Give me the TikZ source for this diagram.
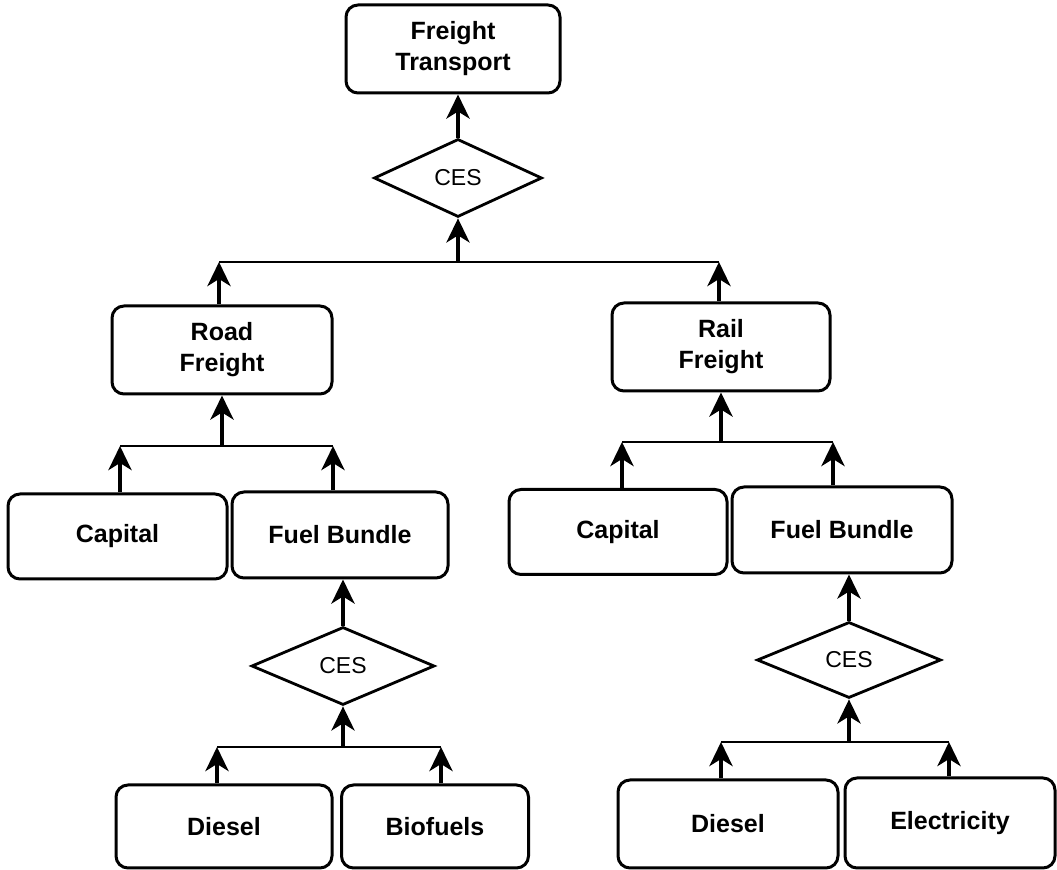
\documentclass[tikz,border=0pt]{standalone}
\usepackage{fontspec}
\setmainfont{Liberation Sans}
\usetikzlibrary{arrows.meta,shapes.geometric}
\newcommand{\boxfont}{\fontsize{12.5}{15.5}\selectfont\bfseries}
\newcommand{\cesfont}{\fontsize{11.5}{13}\selectfont}

\begin{document}
\begin{tikzpicture}[x=0.5pt, y=-0.5pt,
    box/.style={draw, line width=1.5pt, rounded corners=6pt, minimum width=109pt, minimum height=43pt, inner sep=2pt, align=center, font=\boxfont},
    ces/.style={draw, diamond, aspect=2, line width=1.4pt, inner sep=0pt, minimum width=92pt, minimum height=38.5pt, font=\cesfont},
    arr/.style={-{Stealth[length=12pt, width=11.5pt, inset=3.5pt]}, line width=2pt},
    bus/.style={line width=1.2pt}]
    \useasboundingbox (0,0) rectangle (1057,870);

    % --- top: freight transport ---
    \node[box, minimum width=107pt, minimum height=44pt] (ft) at (453,49) {Freight\\Transport};
    \node[ces, minimum width=84pt, minimum height=39pt] (cesT) at (458,178) {CES};
    \draw[arr] (cesT.north) -- (cesT.north |- ft.south);
    \coordinate (b1l) at (219,262);
    \coordinate (b1r) at (719,262);
    \draw[bus] (b1l) -- (b1r);
    \draw[arr] (cesT.south |- b1l) -- (cesT.south);

    % --- road / rail ---
    \node[box, minimum width=110pt, minimum height=44pt] (road) at (222,350) {Road\\Freight};
    \node[box, minimum height=44pt] (rail) at (721,347) {Rail\\Freight};
    \draw[arr] (road.north -| b1l) -- (b1l);
    \draw[arr] (rail.north -| b1r) -- (b1r);

    % --- road: capital and fuel ---
    \coordinate (b2ll) at (120,446);
    \coordinate (b2lr) at (333,446);
    \draw[bus] (b2ll) -- (b2lr);
    \draw[arr] (road.south |- b2ll) -- (road.south);
    \node[box, minimum width=109.5pt, minimum height=42.5pt] (capL) at (117.5,536.5) {Capital};
    \node[box, minimum width=108pt] (fuelL) at (340,535) {Fuel Bundle};
    \draw[arr] (capL.north -| b2ll) -- (b2ll);
    \draw[arr] (fuelL.north -| b2lr) -- (b2lr);

    % --- rail: capital and fuel ---
    \coordinate (b2rl) at (622,442);
    \coordinate (b2rr) at (833,442);
    \draw[bus] (b2rl) -- (b2rr);
    \draw[arr] (rail.south |- b2rl) -- (rail.south);
    \node[box, minimum height=42.5pt] (capR) at (618,532) {Capital};
    \node[box, minimum width=110pt] (fuelR) at (842,530) {Fuel Bundle};
    \draw[arr] (capR.north -| b2rl) -- (b2rl);
    \draw[arr] (fuelR.north -| b2rr) -- (b2rr);

    % --- road fuel: diesel / biofuels ---
    \node[ces, minimum width=91.5pt, minimum height=39pt] (cesL) at (343,666) {CES};
    \draw[arr] (cesL.north) -- (cesL.north |- fuelL.south);
    \coordinate (b3ll) at (217,747);
    \coordinate (b3lr) at (441,747);
    \draw[bus] (b3ll) -- (b3lr);
    \draw[arr] (cesL.south |- b3ll) -- (cesL.south);
    \node[box, minimum width=108pt, minimum height=41.5pt] (dslL) at (224,826.5) {Diesel};
    \node[box, minimum width=93.5pt, minimum height=41.5pt] (bio) at (435,826.5) {Biofuels};
    \draw[arr] (dslL.north -| b3ll) -- (b3ll);
    \draw[arr] (bio.north -| b3lr) -- (b3lr);

    % --- rail fuel: diesel / electricity ---
    \node[ces, minimum height=38pt] (cesR) at (849,660) {CES};
    \draw[arr] (cesR.north) -- (cesR.north |- fuelR.south);
    \coordinate (b3rl) at (721,742);
    \coordinate (b3rr) at (949,742);
    \draw[bus] (b3rl) -- (b3rr);
    \draw[arr] (cesR.south |- b3rl) -- (cesR.south);
    \node[box, minimum width=110pt, minimum height=44pt] (dslR) at (728,824) {Diesel};
    \node[box, minimum width=105pt, minimum height=45pt] (elec) at (950,823) {Electricity};
    \draw[arr] (dslR.north -| b3rl) -- (b3rl);
    \draw[arr] (elec.north -| b3rr) -- (b3rr);
\end{tikzpicture}
\end{document}
